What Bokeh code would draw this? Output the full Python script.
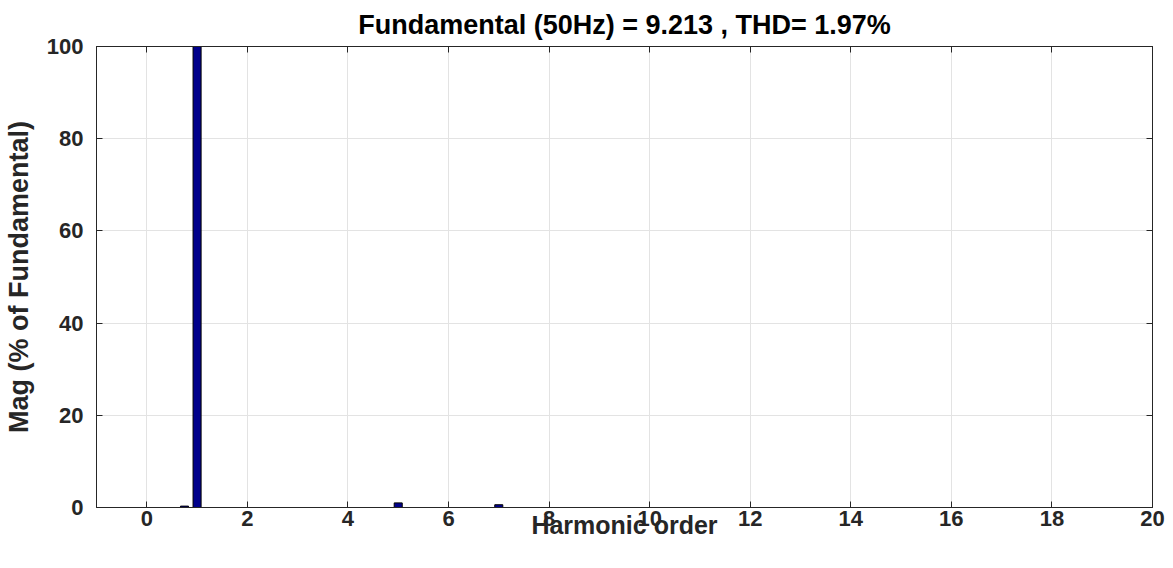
from bokeh.plotting import figure
from bokeh.models import LinearAxis, Range1d, FixedTicker, Title
from bokeh.embed import file_html
from bokeh.resources import INLINE

# data (harmonic order, magnitude % of fundamental)
harm_order = [0.75, 1.0, 5.0, 7.0]
harm_mag = [0.3, 100.0, 1.0, 0.6]
x_ticks = [0, 2, 4, 6, 8, 10, 12, 14, 16, 18, 20]
y_ticks = [0, 20, 40, 60, 80, 100]
title_text = "Fundamental (50Hz) = 9.213 , THD= 1.97%"
x_label_text = "Harmonic order"
y_label_text = "Mag (% of Fundamental)"

FONT = "Liberation Sans"
TXT = "#262626"

p = figure(width=1165, height=560, output_backend="svg", toolbar_location=None,
           x_range=Range1d(-1, 20), y_range=Range1d(0, 100),
           min_border_left=96, min_border_right=13, min_border_top=45, min_border_bottom=53)
p.title = Title(text=title_text, align="center", text_font=FONT, text_font_size="27px",
                text_font_style="bold", text_color="black", standoff=14)
p.outline_line_color = "#262626"
p.outline_line_width = 1
p.background_fill_color = "white"
p.border_fill_color = "white"

p.vbar(x=harm_order, top=harm_mag, width=0.16, fill_color="#00008B", line_color="black", line_width=1)

for ax in p.xaxis + p.yaxis:
    ax.major_label_text_font = FONT
    ax.major_label_text_font_size = "22px"
    ax.major_label_text_font_style = "bold"
    ax.major_label_text_color = TXT
    ax.major_tick_in = 6
    ax.major_tick_out = 0
    ax.minor_tick_line_color = None
    ax.axis_line_color = "#262626"
    ax.major_tick_line_color = "#262626"
    ax.axis_label_text_font = FONT
    ax.axis_label_text_font_style = "bold"
    ax.axis_label_text_color = TXT

p.xaxis.ticker = FixedTicker(ticks=x_ticks)
p.yaxis.ticker = FixedTicker(ticks=y_ticks)
p.xaxis.axis_label = x_label_text
p.yaxis.axis_label = y_label_text
p.xaxis.axis_label_text_font_size = "25px"
p.yaxis.axis_label_text_font_size = "27px"
p.xaxis.major_label_standoff = 3
p.xaxis.axis_label_standoff = -18
p.yaxis.major_label_standoff = 13
p.yaxis.axis_label_standoff = 10

p.xgrid.ticker = FixedTicker(ticks=x_ticks)
p.ygrid.ticker = FixedTicker(ticks=y_ticks)
p.grid.grid_line_color = "#e3e3e3"
p.grid.grid_line_width = 1

top_ax = LinearAxis(ticker=FixedTicker(ticks=x_ticks), major_label_text_font_size="1px",
                    major_label_text_color=None,
                    major_tick_in=6, major_tick_out=0, minor_tick_line_color=None,
                    axis_line_color="#262626", major_tick_line_color="#262626",
                    major_label_standoff=0)
right_ax = LinearAxis(ticker=FixedTicker(ticks=y_ticks), major_label_text_font_size="1px",
                      major_label_text_color=None,
                      major_tick_in=6, major_tick_out=0, minor_tick_line_color=None,
                      axis_line_color="#262626", major_tick_line_color="#262626",
                      major_label_standoff=0)
p.add_layout(top_ax, "above")
p.add_layout(right_ax, "right")

open("out.html", "w").write(file_html(p, INLINE))
